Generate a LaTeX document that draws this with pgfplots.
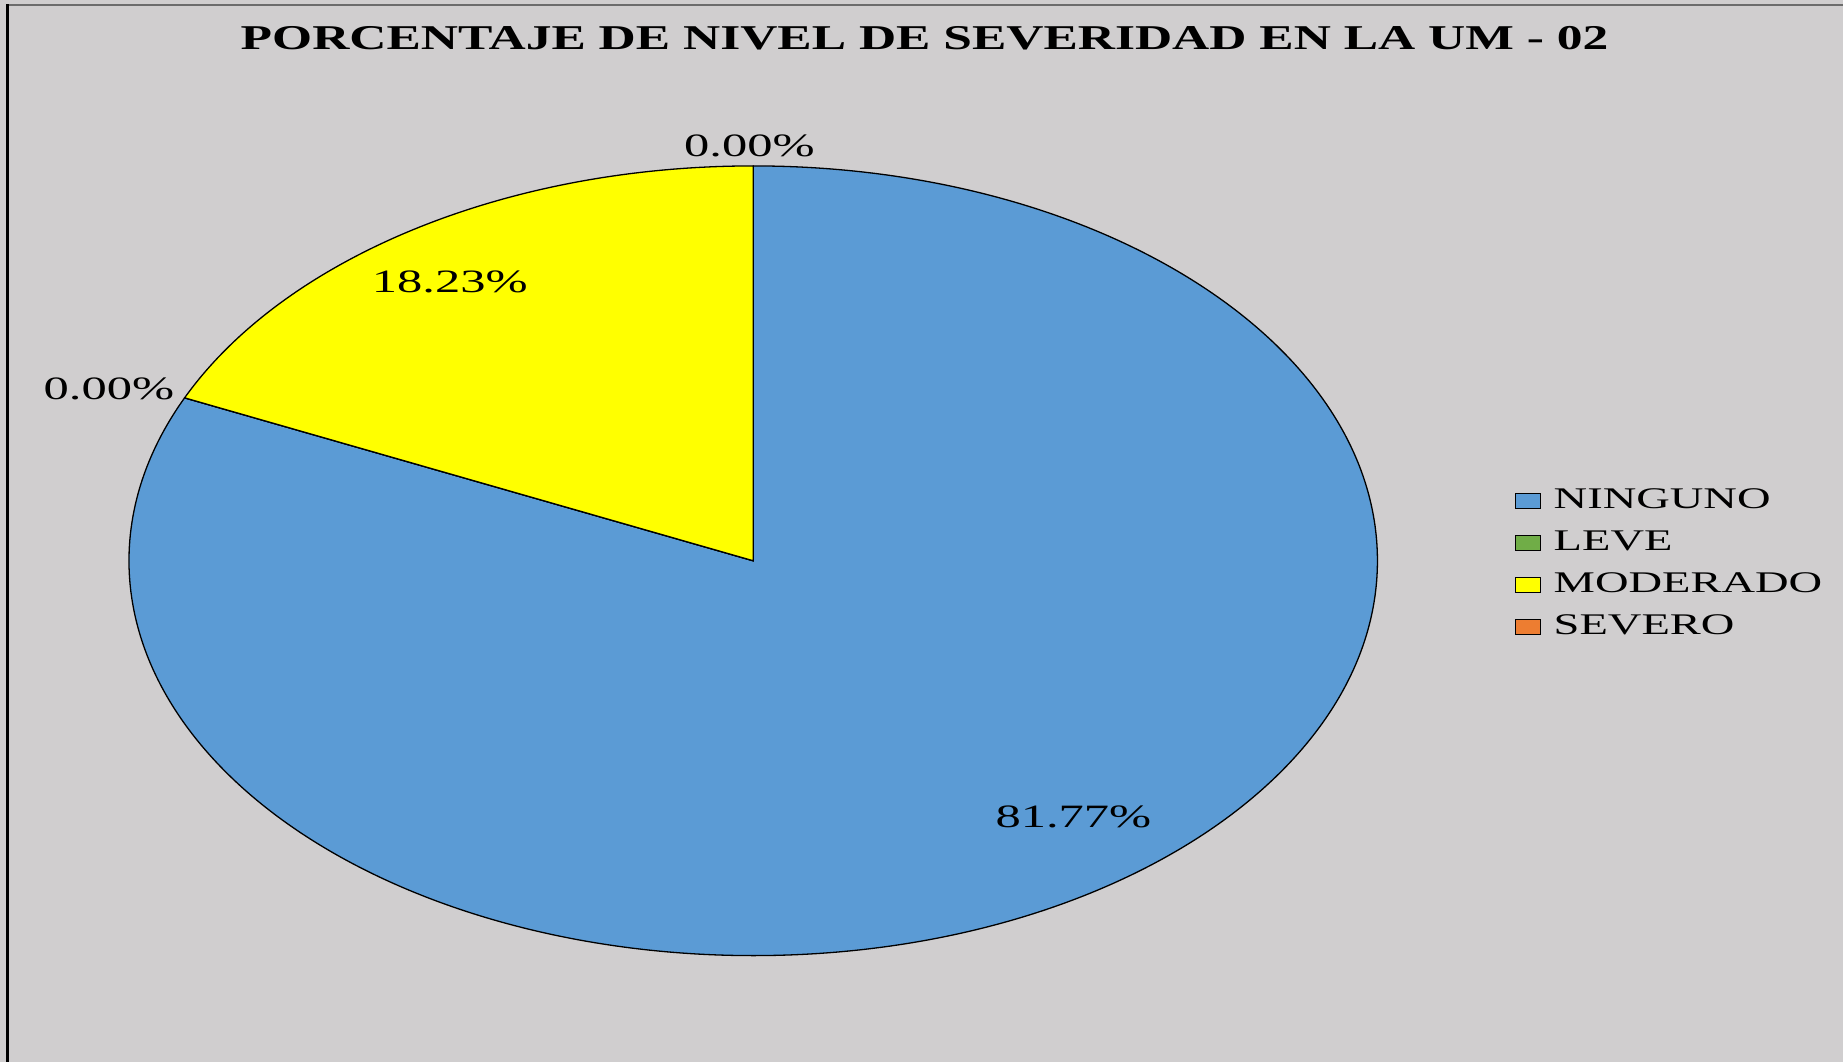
\documentclass[border=0pt]{standalone}
\usepackage{pgfplots}
\pgfplotsset{compat=1.18}
\usepackage{pgfplotstable}
\usepackage{fontspec}
\setmainfont{Liberation Serif}[FakeStretch=1.55]
\newfontfamily\titlefont{Liberation Serif}[FakeStretch=1.48]

\definecolor{fondo}{HTML}{D0CECF}
\definecolor{ninguno}{HTML}{5B9BD5}
\definecolor{leve}{HTML}{70AD47}
\definecolor{moderado}{HTML}{FFFF00}
\definecolor{severo}{HTML}{ED7D31}

\pgfplotstableread{
nivel valor
NINGUNO 81.77
LEVE 0.00
MODERADO 18.23
SEVERO 0.00
}\datos

% angles of the slices, clockwise from 12 o'clock
\pgfplotstablegetelem{0}{valor}\of\datos \let\vA\pgfplotsretval
\pgfplotstablegetelem{1}{valor}\of\datos \let\vB\pgfplotsretval
\pgfplotstablegetelem{2}{valor}\of\datos \let\vC\pgfplotsretval
\pgfplotstablegetelem{3}{valor}\of\datos \let\vD\pgfplotsretval
\pgfmathsetmacro\aA{90}
\pgfmathsetmacro\aB{\aA-3.6*\vA}
\pgfmathsetmacro\aC{\aB-3.6*\vB}
\pgfmathsetmacro\aD{\aC-3.6*\vC}
\pgfmathsetmacro\aE{\aD-3.6*\vD}

\pgfplotsset{
  caja/.style={legend image code/.code={\draw[##1,draw=black,line width=0.6pt] (0pt,-3.75pt) rectangle (12.5pt,3.75pt);}},
}

\newcommand\rebanada[3]{%
  \fill[#1,draw=black,line width=0.65pt] (axis cs:0,0) -- (axis cs:{cos(#2)},{sin(#2)})
    arc[start angle=#2, end angle=#3, x radius=312.25pt, y radius=197.5pt] -- cycle;}

\begin{document}
\begin{tikzpicture}
\fill[fondo] (0pt,0pt) rectangle (922pt,531pt);
\draw[gray!85!black, line width=0.75pt] (3.75pt,528.5pt) -- (922pt,528.5pt);
\draw[black, line width=1.5pt] (3.75pt,0pt) -- (3.75pt,529pt);
\node[anchor=base, font=\titlefont\fontsize{17.4}{20}\selectfont\bfseries] at (462.5pt,506pt)
  {PORCENTAJE DE NIVEL DE SEVERIDAD EN LA UM - 02};
\begin{axis}[
  at={(376.75pt,250.5pt)}, anchor=center,
  scale only axis,
  width=624.5pt, height=395pt,
  xmin=-1, xmax=1, ymin=-1, ymax=1,
  hide axis,
  clip=false,
  legend style={
    draw=none, fill=none,
    at={(axis cs:1.219,-0.008)}, anchor=west,
    font=\fontsize{15}{18}\selectfont,
    nodes={inner sep=0pt, text height=11pt, text depth=3pt},
    row sep=7pt,
    inner sep=0pt,
  },
  legend cell align=left,
  /tikz/every odd column/.append style={column sep=6.5pt},
]
\addlegendimage{caja, fill=ninguno}
\addlegendentry{NINGUNO}
\addlegendimage{caja, fill=leve}
\addlegendentry{LEVE}
\addlegendimage{caja, fill=moderado}
\addlegendentry{MODERADO}
\addlegendimage{caja, fill=severo}
\addlegendentry{SEVERO}

\rebanada{ninguno}{\aA}{\aB}
\rebanada{leve}{\aB}{\aC}
\rebanada{moderado}{\aC}{\aD}
\rebanada{severo}{\aD}{\aE}

\node[font=\fontsize{16.3}{19}\selectfont] at (axis cs:0.513,-0.648) {81.77\%};
\node[font=\fontsize{16.3}{19}\selectfont] at (axis cs:-0.486,0.706) {18.23\%};
\node[font=\fontsize{16.3}{19}\selectfont] at (axis cs:-0.006,1.051) {0.00\%};
\node[font=\fontsize{16.3}{19}\selectfont] at (axis cs:-1.032,0.435) {0.00\%};
\end{axis}
\end{tikzpicture}
\end{document}
